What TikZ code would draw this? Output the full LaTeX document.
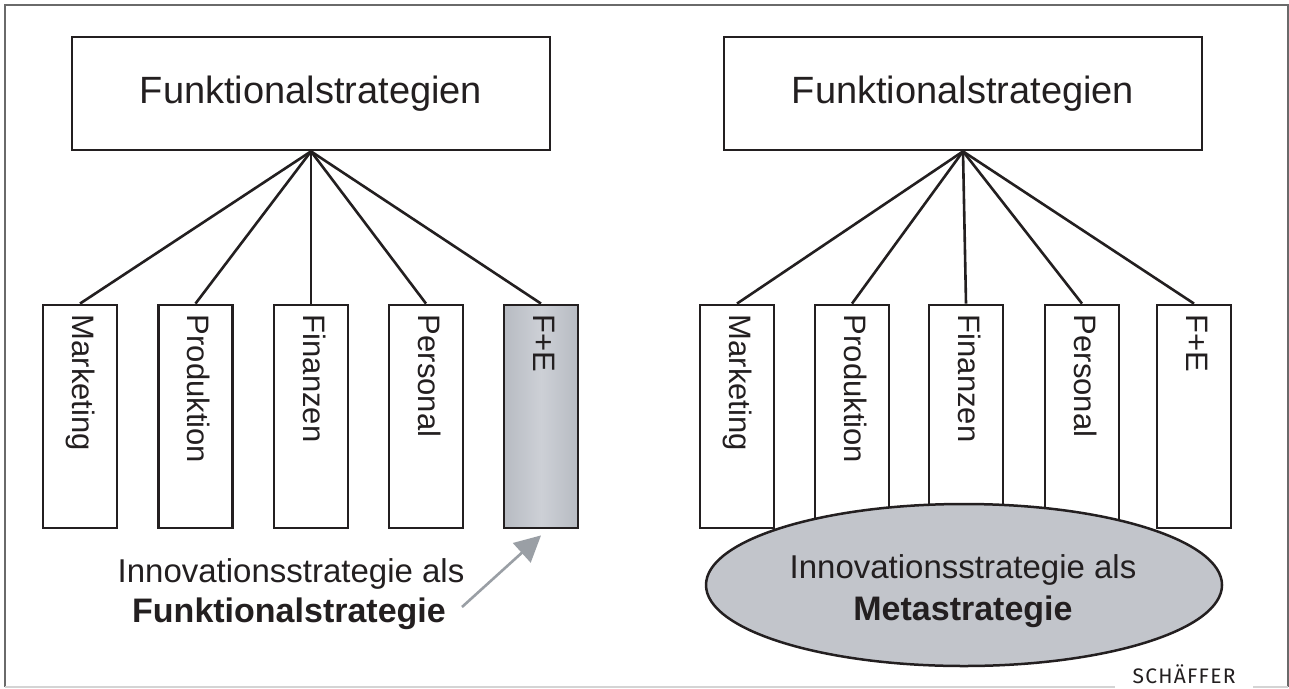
\documentclass[tikz,border=0pt]{standalone}
\usepackage{fontspec}
\setmainfont{Liberation Sans}
\newfontfamily\logofont[LetterSpace=6]{Fira Sans}
\usetikzlibrary{shapes.geometric,arrows.meta}
\definecolor{ink}{HTML}{231F20}
\definecolor{felight}{HTML}{CDD0D6}
\definecolor{fedark}{HTML}{B7BBC2}
\definecolor{ellfill}{HTML}{C2C5CB}
\definecolor{arrowgray}{HTML}{9A9FA5}
\definecolor{framegray}{HTML}{6A6A6A}
\definecolor{framelight}{HTML}{D4D4D4}
\begin{document}
\begin{tikzpicture}[x=1pt,y=-1pt,
  topbox/.style={draw=ink, line width=2.8pt, minimum width=478pt, minimum height=113pt, inner sep=0pt, text=ink, font=\fontsize{38}{40}\selectfont},
  fbox/.style={draw=ink, line width=2.8pt, minimum width=74pt, minimum height=223pt, inner sep=0pt},
  flabel/.style={rotate=-90, anchor=west, inner sep=0pt, text=ink, text height=22pt, text depth=6.5pt, font=\fontsize{31}{33}\selectfont},
  conn/.style={draw=ink, line width=2.6pt},
  bigtext/.style={anchor=base, inner sep=0pt, text=ink, font=\fontsize{33}{35}\selectfont},
  bigbold/.style={anchor=base, inner sep=0pt, text=ink, font=\fontsize{34}{36}\selectfont\bfseries},
  arrowc/.style={draw=arrowgray, line width=2.6pt, -{Triangle[length=26pt,width=26pt]}}
]
\useasboundingbox (0,0) rectangle (1289,688);
\fill[white] (0,0) rectangle (1289,688);
% frame
\draw[framegray, line width=1.5pt] (5,687) -- (5,5) -- (1288,5) -- (1288,687);
\draw[framelight, line width=1.5pt] (5,687) -- (1115,687) (1253,687) -- (1288,687);

% ---------- left part ----------
\node[topbox] (ftL) at (311,93.5) {Funktionalstrategien};
\node[fbox] (mL) at (80,416.5) {};
\node[fbox] (pL) at (195.5,416.5) {};
\node[fbox] (fiL) at (311,416.5) {};
\node[fbox] (peL) at (426,416.5) {};
\node[fbox, left color=fedark, right color=fedark, middle color=felight] (feL) at (541,416.5) {};
\node[flabel] (mLt) at ([yshift=-11pt]mL.north) {Marketing};
\node[flabel] (pLt) at ([yshift=-11pt]pL.north) {Produktion};
\node[flabel] (fiLt) at ([yshift=-11pt]fiL.north) {Finanzen};
\node[flabel] (peLt) at ([yshift=-11pt]peL.north) {Personal};
\node[flabel] (feLt) at ([yshift=-11pt]feL.north) {F+E};
\foreach \b in {mL,pL,fiL,peL,feL} \draw[conn] (ftL.south) -- (\b.north);

\node[bigtext] (innoL1) at (291,582) {Innovationsstrategie als};
\node[bigbold] (innoL2) at (289,622) {Funktionalstrategie};
\coordinate (arrTail) at (462,607);
\draw[arrowc] (arrTail) -- ([yshift=-6pt]feL.south);

% ---------- right part ----------
\node[topbox] (ftR) at (963,93.5) {Funktionalstrategien};
\node[fbox] (mR) at (737,416.5) {};
\node[fbox] (pR) at (852,416.5) {};
\node[fbox] (fiR) at (966,416.5) {};
\node[fbox] (peR) at (1082,416.5) {};
\node[fbox] (feR) at (1194,416.5) {};
\node[flabel] (mRt) at ([yshift=-11pt]mR.north) {Marketing};
\node[flabel] (pRt) at ([yshift=-11pt]pR.north) {Produktion};
\node[flabel] (fiRt) at ([yshift=-11pt]fiR.north) {Finanzen};
\node[flabel] (peRt) at ([yshift=-11pt]peR.north) {Personal};
\node[flabel] (feRt) at ([yshift=-11pt]feR.north) {F+E};
\foreach \b in {mR,pR,fiR,peR,feR} \draw[conn] (ftR.south) -- (\b.north);

\node[ellipse, draw=ink, fill=ellfill, line width=2.5pt, minimum width=516pt, minimum height=162pt, inner sep=0pt] (meta) at (964,585) {};
\node[bigtext] (metaA) at (963,578) {Innovationsstrategie als};
\node[bigbold] (metaB) at (963,620) {Metastrategie};

% logo
\node[anchor=base, inner sep=0pt, text=ink, font=\logofont\fontsize{21}{22}\selectfont] (logo) at (1184,683) {SCHÄFFER};
\end{tikzpicture}
\end{document}
